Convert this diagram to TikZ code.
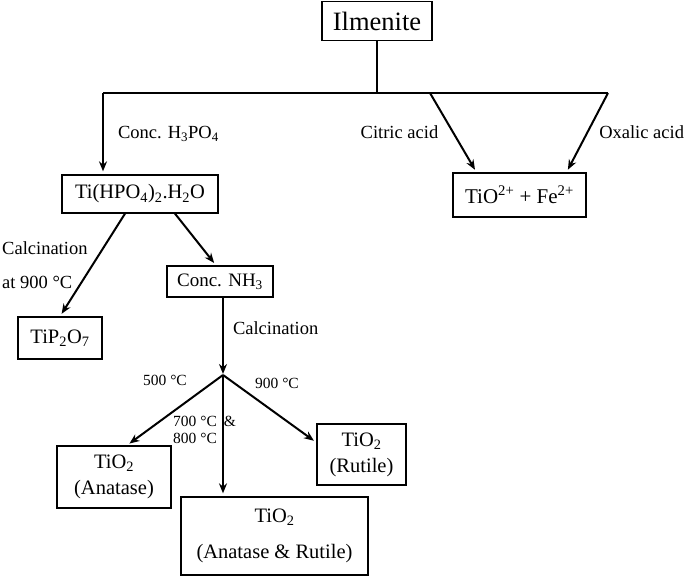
\documentclass[tikz,border=0pt]{standalone}
\usepackage{fontspec}
\setmainfont{Liberation Serif}
\usetikzlibrary{arrows.meta,positioning}

\tikzset{
    box/.style={draw, line width=1.3pt, inner sep=0pt, align=center, font=\fontsize{20.5}{26}\selectfont},
    lbl/.style={inner sep=0pt, align=left, font=\fontsize{18.5}{34}\selectfont},
    templbl/.style={inner sep=0pt, align=left, font=\fontsize{15.5}{17}\selectfont},
    flow/.style={line width=2pt},
    flowarr/.style={line width=2pt, ->, shorten >=3pt},
}

\begin{document}
\begin{tikzpicture}[x=1pt, y=1pt, >={Stealth[length=10pt,width=8pt]}]
    \useasboundingbox (0,0) rectangle (685,578);
    % boxes
    \node[box, minimum width=110pt, minimum height=39pt, font=\fontsize{26.5}{30}\selectfont] (ilm) at (377,557) {Ilmenite};
    \node[box, minimum width=156pt, minimum height=38pt] (tihpo) at (140,384) {Ti(HPO\textsubscript{4})\textsubscript{2}.H\textsubscript{2}O};
    \node[box, minimum width=133pt, minimum height=44pt, font=\fontsize{21}{26}\selectfont] (tio) at (519.5,383) {TiO\textsuperscript{2+} + Fe\textsuperscript{2+}};
    \node[box, minimum width=84pt, minimum height=42pt] (tip2o7) at (60,240) {TiP\textsubscript{2}O\textsubscript{7}};
    \node[box, minimum width=106pt, minimum height=31pt, font=\fontsize{19}{24}\selectfont] (nh3) at (220,296.5) {Conc. NH\textsubscript{3}};
    \node[box, minimum width=114pt, minimum height=62pt] (anatase) at (114,101) {TiO\textsubscript{2}\\(Anatase)};
    \node[box, minimum width=89pt, minimum height=61pt] (rutile) at (361.5,123.5) {TiO\textsubscript{2}\\(Rutile)};
    \node[box, minimum width=187pt, minimum height=78pt] (mixed) at (274.5,42) {TiO\textsubscript{2}\\[10pt](Anatase \& Rutile)};
    % branching points
    \coordinate (top) at (377,485);
    \coordinate (barL) at (103,485);
    \coordinate (barR) at (608,485);
    \coordinate (citric) at (430,485);
    \coordinate (split) at (223,203);
    % connectors
    \draw[flow] (ilm.south) -- (top);
    \draw[flow] (barL) -- (barR);
    \draw[flowarr] (barL) -- node[lbl, right=14pt] {Conc. H\textsubscript{3}PO\textsubscript{4}} (barL |- tihpo.north);
    \draw[flowarr] (citric) -- node[lbl, left=14pt] {Citric acid} ([xshift=-43pt]tio.north);
    \draw[flowarr] (barR) -- node[lbl, right=11pt] {Oxalic acid} ([xshift=47pt]tio.north);
    \draw[flowarr] ([xshift=-15pt]tihpo.south) -- node[lbl, left=4pt] {Calcination\\at 900 °C} (tip2o7.north);
    \draw[flowarr] ([xshift=35pt]tihpo.south) -- ([xshift=-4pt]nh3.north);
    \draw[flow, ->, shorten >=1pt] (nh3.south -| split) -- node[lbl, pos=0.4, right=9pt] {Calcination} (split);
    \draw[flowarr] (split) -- ([xshift=13pt]anatase.north);
    \draw[flowarr] (split) -- ([yshift=12pt]rutile.west);
    \draw[flowarr] (split) -- (split |- mixed.north);
    % temperatures
    \node[templbl] (t500) at (165,198) {500 °C};
    \node[templbl] (t900) at (277,195) {900 °C};
    \node[templbl, anchor=west] (t700) at (173,148) {700 °C\hspace{7pt}\&\\800 °C};
\end{tikzpicture}
\end{document}
